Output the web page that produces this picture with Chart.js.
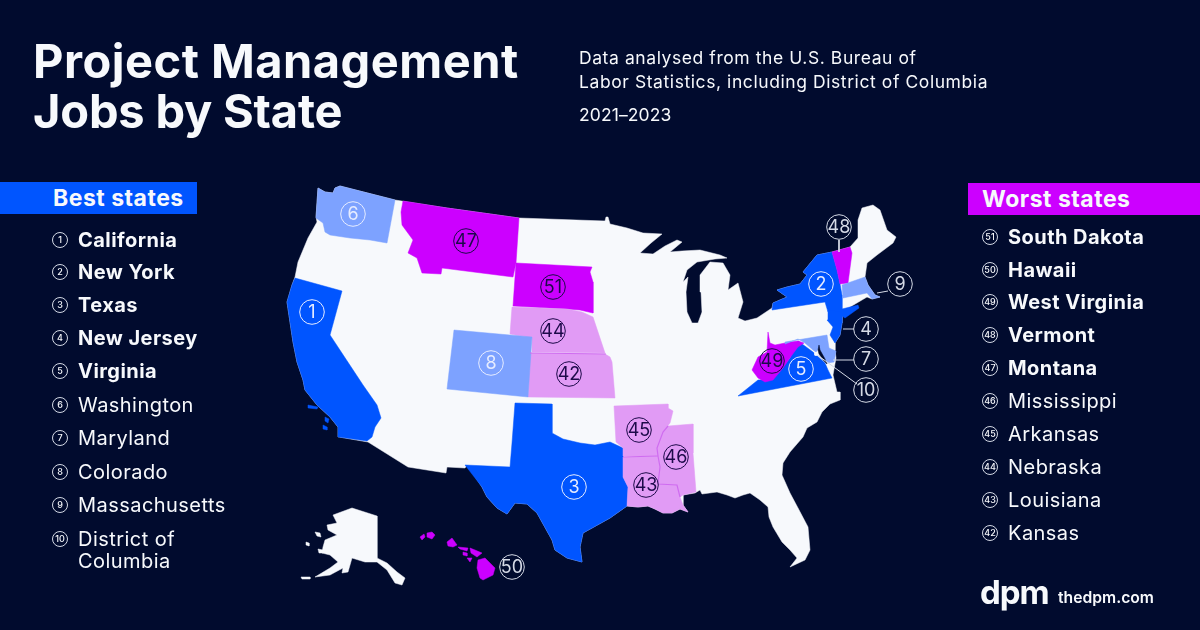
<!DOCTYPE html>
<html>
<head>
<meta charset="utf-8">
<title>Project Management Jobs by State</title>
<script src="https://cdn.jsdelivr.net/npm/chart.js@4"></script>
<style>
  html, body { margin: 0; padding: 0; background: #010b2e; }
  #page { position: relative; width: 1200px; height: 630px; overflow: hidden; color: #f7f9fc; font-family: Inter, sans-serif; background: #010b2e; }
  #myChart { position: absolute; left: 0; top: 0; }
  #page > div { position: absolute; white-space: nowrap; }
  .title { left: 33px; font-size: 47px; font-weight: 700; line-height: 50px; letter-spacing: 0.5px; }
  .sub { left: 579px; font-size: 17.5px; line-height: 24px; letter-spacing: 0.58px; }
  .bar { height: 32px; line-height: 32px; font-size: 23px; font-weight: 700; letter-spacing: 0.5px; }
  .row { font-size: 20px; line-height: 22px; letter-spacing: 0.45px; }
  .row.top { font-weight: 700; }
  .row.rest { font-weight: 400; }
  .dot { width: 14px; height: 14px; line-height: 14px; border: 1px solid #d5dae6; border-radius: 50%; font-size: 9px; font-weight: 500; text-align: center; }
</style>
</head>
<body>
<div id="page">
  <canvas id="myChart" width="1200" height="630"></canvas>
  <div class="title" style="top:36px">Project Management</div>
  <div class="title" style="top:86px;letter-spacing:-0.2px">Jobs by State</div>
  <div class="sub" style="top:46px">Data analysed from the U.S. Bureau of</div>
  <div class="sub" style="top:70px">Labor Statistics, including District of Columbia</div>
  <div class="sub" style="top:103px;letter-spacing:0.1px">2021–2023</div>
  <div class="bar" style="left:0;top:182px;width:144px;padding-left:53px;background:#0055ff">Best states</div>
  <div class="bar" style="left:968px;top:183px;width:218px;padding-left:14px;background:#cc00ff">Worst states</div>
  <div style="left:980px;top:570px;font-size:33px;font-weight:700;line-height:44px;letter-spacing:-1px">dpm</div>
  <div style="left:1058px;top:588px;font-size:15.7px;font-weight:600;line-height:20px">thedpm.com</div>
</div>
<script>
// ranked lists
const bestStates = ['California', 'New York', 'Texas', 'New Jersey', 'Virginia', 'Washington', 'Maryland', 'Colorado', 'Massachusetts', 'District of\nColumbia'];
const bestRanks = [1, 2, 3, 4, 5, 6, 7, 8, 9, 10];
const worstStates = ['South Dakota', 'Hawaii', 'West Virginia', 'Vermont', 'Montana', 'Mississippi', 'Arkansas', 'Nebraska', 'Louisiana', 'Kansas'];
const worstRanks = [51, 50, 49, 48, 47, 46, 45, 44, 43, 42];

// map shapes, in map units
const mainland = [[318,188],[325,192],[333,193],[335,188],[340,186],[395,200],[447,208],[519,218],[605,221],[606,217],[608,217],[610,224],[627,228],[643,233],[662,234],[651,243],[640,253],[653,254],[665,246],[677,240],[682,242],[670,252],[682,251],[700,250],[720,255],[727,258],[715,259],[697,262],[687,270],[683,282],[688,277],[686,292],[687,312],[692,323],[698,323],[702,312],[701,292],[700,275],[710,262],[723,263],[730,275],[728,290],[738,283],[743,302],[738,318],[745,321],[757,318],[772,308],[773,303],[787,297],[777,290],[787,287],[800,284],[807,275],[803,272],[817,255],[832,252],[850,247],[858,238],[858,220],[862,208],[873,205],[880,210],[887,230],[896,237],[893,243],[877,255],[867,263],[865,277],[868,285],[875,295],[880,297],[872,299],[867,297],[845,310],[842,316],[842,323],[840,335],[835,343],[835,350],[836,358],[833,375],[837,392],[840,392],[840,400],[830,404],[822,412],[817,422],[807,428],[803,437],[790,452],[783,463],[782,475],[790,493],[798,508],[808,527],[810,550],[805,560],[790,567],[797,558],[790,550],[782,542],[773,527],[769,517],[768,507],[760,500],[750,493],[743,495],[735,498],[727,495],[717,492],[702,494],[700,490],[695,493],[683,495],[683,505],[688,512],[680,509],[672,513],[663,513],[655,509],[648,506],[638,507],[627,506],[610,518],[583,533],[580,547],[582,562],[567,558],[555,550],[552,540],[537,513],[527,504],[515,503],[507,514],[497,508],[487,497],[482,487],[467,465],[465,468],[447,467],[446,473],[408,467],[368,442],[339,437],[338,427],[330,417],[317,405],[305,390],[303,380],[297,362],[293,342],[287,302],[292,285],[295,277],[298,262],[308,238],[317,222],[316,217]];
const alaska = [[333,515],[352,508],[377,516],[377,558],[387,563],[397,572],[405,578],[402,585],[395,583],[387,570],[377,562],[365,562],[352,558],[348,572],[342,573],[343,568],[330,575],[315,577],[330,568],[338,562],[330,555],[322,553],[323,547],[325,540],[337,535],[328,530],[327,525],[337,523]];
const alaskaIslandA = [[315,532],[320,533],[321,537],[317,536]];
const alaskaIslandB = [[306,542],[309,543],[309,546],[306,545]];
const alaskaIslandC = [[318,549],[323,550],[323,553],[319,553]];
const aleutians = [[301,577],[310,577],[310,579],[302,579]];
const california = [[295,278],[342,291],[330,335],[363,385],[377,405],[381,418],[375,427],[372,437],[367,441],[339,437],[338,427],[330,417],[317,405],[305,390],[303,380],[297,362],[293,342],[287,302],[292,285]];
const channelIslandA = [[308,405],[318,407],[317,409],[308,408]];
const channelIslandB = [[325,417],[329,419],[328,423],[325,421]];
const channelIslandC = [[323,425],[327,427],[327,430],[323,429]];
const washington = [[318,188],[325,192],[333,193],[335,188],[340,186],[395,200],[387,243],[370,240],[350,238],[330,235],[325,232],[323,223],[316,218]];
const montana = [[403,201],[447,208],[519,218],[516,263],[513,277],[442,268],[441,274],[422,273],[417,258],[408,253],[413,240],[402,225],[401,212]];
const southDakota = [[516,263],[592,267],[590,272],[593,282],[593,313],[580,310],[567,309],[513,306]];
const nebraska = [[512,307],[567,309],[582,312],[593,317],[600,338],[605,353],[532,352],[532,338],[510,334]];
const kansas = [[530,353],[605,354],[610,357],[612,362],[615,398],[528,397]];
const colorado = [[454,330],[532,337],[528,397],[447,389]];
const texas = [[515,403],[552,404],[552,433],[563,439],[580,443],[595,445],[610,442],[623,448],[623,477],[628,487],[627,506],[610,518],[583,533],[580,547],[582,562],[567,558],[555,550],[552,540],[537,513],[527,504],[515,503],[507,514],[497,508],[487,497],[482,487],[465,465],[510,467],[512,443]];
const arkansas = [[614,406],[668,404],[668,408],[673,411],[670,423],[663,432],[657,448],[658,456],[623,456],[623,448],[616,442]];
const louisiana = [[623,457],[658,456],[660,467],[658,484],[677,485],[680,497],[683,505],[688,512],[680,509],[672,513],[663,513],[655,509],[648,506],[638,507],[627,506],[628,487],[623,477]];
const mississippi = [[668,426],[693,424],[693,453],[696,492],[683,495],[680,497],[677,485],[658,484],[660,467],[658,456],[657,448],[663,432]];
const newYork = [[772,310],[773,303],[787,297],[777,290],[787,287],[800,284],[807,275],[803,272],[817,255],[832,252],[837,270],[840,284],[842,295],[842,309],[858,305],[859,308],[845,318],[842,316],[828,312],[825,302]];
const newJersey = [[828,310],[842,312],[842,323],[840,335],[835,343],[830,335],[833,327],[827,320],[828,313]];
const vermont = [[832,252],[850,247],[852,253],[848,283],[840,284],[837,270]];
const massachusetts = [[842,285],[865,277],[868,285],[875,295],[880,297],[872,299],[867,293],[843,298]];
const virginia = [[738,396],[758,380],[772,380],[790,358],[798,341],[813,352],[825,363],[828,370],[832,378]];
const westVirginia = [[768,332],[770,343],[775,345],[790,342],[798,341],[804,343],[798,347],[792,355],[783,368],[773,380],[765,382],[758,378],[752,370],[758,357],[767,352]];
const maryland = [[785,342],[827,335],[829,348],[836,351],[834,362],[827,363],[822,355],[819,348],[816,352],[813,350],[805,343],[798,339],[785,344]];
const chesapeake = [[819,345],[820,350],[825,359],[827,364],[824,361],[819,354],[818,350]];
const hawaiiIslands = [
  [[427,533],[432,532],[435,535],[432,539],[427,537]],
  [[420,537],[424,534],[425,537],[422,540]],
  [[447,542],[452,538],[457,545],[453,547],[448,546]],
  [[458,547],[468,548],[467,551],[460,549]],
  [[463,552],[467,553],[467,556],[463,555]],
  [[470,548],[475,550],[482,553],[477,557],[471,553]],
  [[467,558],[472,558],[470,562]],
  [[478,560],[485,558],[495,568],[493,575],[483,580],[480,578],[477,568]]
];
const stateBorders = [
  [[530,353],[606,354]],
  [[623,457],[658,456]],
  [[668,426],[663,432],[657,448],[658,456],[660,467],[658,484],[677,485],[680,497]]
];

// numbered markers on the map
const markerRanks = [1, 2, 3, 4, 5, 6, 7, 8, 9, 10, 42, 43, 44, 45, 46, 47, 48, 49, 50, 51];
const markerX = [312, 821, 574, 866, 801, 353, 866, 491, 900, 866, 569, 646, 553, 639, 676, 466, 839, 772, 512, 553];
const markerY = [312, 284, 487, 329, 369, 214, 359, 363, 284, 390, 374, 485, 331, 430, 457, 241, 227, 361, 567, 287];
const leaderLines = [[[839,240],[839,252]],[[877,293],[888,291]],[[843,329],[854,329]],[[833,360],[854,360]],[[816,354],[857,384]]];
const dcPoint = [[816,354]];

const WHITE = '#f7f9fc', BLUE = '#0055ff', SKY = '#7da2ff', MAGENTA = '#cc00ff', PINK = '#e19bf5', NAVY = '#010b2e';

function shape(points, colour) {
  return {
    data: points.concat([points[0]]).map(p => ({ x: p[0], y: p[1] })),
    showLine: true,
    pointRadius: 0,
    fill: 'shape',
    tension: 0,
    backgroundColor: colour,
    borderColor: colour,
    borderWidth: 0.5,
    borderJoinStyle: 'round',
    clip: false
  };
}

function line(points, colour, width) {
  return {
    data: points.map(p => ({ x: p[0], y: p[1] })),
    showLine: true,
    pointRadius: 0,
    fill: false,
    borderColor: colour,
    borderWidth: width || 1,
    clip: false
  };
}

const darkRanks = [42, 43, 44, 45, 46, 47, 49, 51];
const outsideRanks = [4, 7, 9, 10, 48, 50];
const rankColour = r => darkRanks.includes(r) ? '#1d0a4a' : outsideRanks.includes(r) ? '#d5dae6' : '#e6ecff';

// bottom layer first, reversed below because Chart.js paints dataset 0 on top
const layers = [
  shape(mainland, WHITE),
  shape(alaska, WHITE), shape(alaskaIslandA, WHITE), shape(alaskaIslandB, WHITE), shape(alaskaIslandC, WHITE), shape(aleutians, WHITE),
  shape(california, BLUE), shape(channelIslandA, BLUE), shape(channelIslandB, BLUE), shape(channelIslandC, BLUE),
  shape(washington, SKY), shape(montana, MAGENTA), shape(southDakota, MAGENTA),
  shape(nebraska, PINK), shape(kansas, PINK), shape(colorado, SKY),
  shape(texas, BLUE),
  shape(arkansas, PINK), shape(mississippi, PINK), shape(louisiana, PINK),
  ...stateBorders.map(l => line(l, '#cf6cf0', 1.2)),
  shape(newYork, BLUE), shape(newJersey, BLUE), shape(vermont, MAGENTA), shape(massachusetts, SKY),
  shape(virginia, BLUE), shape(westVirginia, MAGENTA), shape(maryland, SKY), shape(chesapeake, NAVY),
  ...hawaiiIslands.map(i => shape(i, MAGENTA)),
  ...leaderLines.map(l => line(l, '#d5dae6')),
  { data: dcPoint.map(p => ({ x: p[0], y: p[1] })), pointRadius: 2, pointBackgroundColor: WHITE, pointBorderWidth: 0, clip: false },
  {
    data: markerRanks.map((r, i) => ({ x: markerX[i], y: markerY[i] })),
    pointRadius: 12.3,
    pointBorderWidth: 1,
    pointBackgroundColor: 'rgba(0,0,0,0)',
    pointBorderColor: markerRanks.map(rankColour),
    clip: false
  }
];

const markerLabels = {
  id: 'markerLabels',
  afterDatasetsDraw(chart) {
    const { ctx, scales } = chart;
    ctx.save();
    ctx.font = '400 18px Inter';
    ctx.textAlign = 'center';
    ctx.textBaseline = 'middle';
    markerRanks.forEach((r, i) => {
      ctx.fillStyle = rankColour(r);
      ctx.fillText(String(r), scales.x.getPixelForValue(markerX[i]), scales.y.getPixelForValue(markerY[i]) + 0.5);
    });
    ctx.restore();
  }
};

new Chart(document.getElementById('myChart'), {
  type: 'scatter',
  data: { datasets: layers.reverse() },
  options: {
    responsive: false,
    animation: false,
    events: [],
    layout: { padding: 0, autoPadding: false },
    plugins: { legend: { display: false }, tooltip: { enabled: false } },
    scales: {
      x: { type: 'linear', display: false, min: 0, max: 1200 },
      y: { type: 'linear', display: false, min: 0, max: 630, reverse: true }
    }
  },
  plugins: [markerLabels]
});

// side lists
const page = document.getElementById('page');
function addList(names, ranks, textLeft, dotLeft, topY, weightCut) {
  names.forEach((name, i) => {
    const y = topY[i];
    const row = document.createElement('div');
    row.className = 'row ' + (i < weightCut ? 'top' : 'rest');
    row.style.left = textLeft + 'px';
    row.style.top = (y - 11) + 'px';
    row.innerText = name;
    page.appendChild(row);
    const dot = document.createElement('div');
    dot.className = 'dot';
    dot.style.left = dotLeft + 'px';
    dot.style.top = (y - 8) + 'px';
    dot.innerText = ranks[i];
    page.appendChild(dot);
  });
}
addList(bestStates, bestRanks, 78, 52, [240, 272, 305, 338, 371, 405, 438, 472, 505, 539], 5);
addList(worstStates, worstRanks, 1008, 982, [237, 270, 302, 335, 368, 401, 434, 467, 500, 533], 5);
</script>
</body>
</html>
